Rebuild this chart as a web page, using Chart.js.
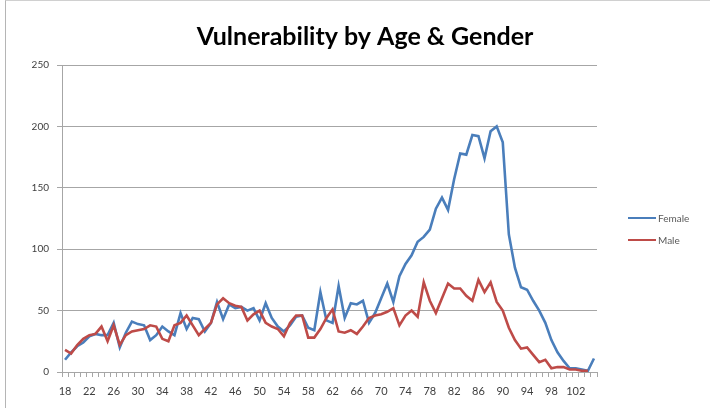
<!DOCTYPE html>
<html lang="en">
<head>
    <meta charset="UTF-8">
    <title>Vulnerability by Age & Gender</title>
    <script src="https://cdn.jsdelivr.net/npm/chart.js"></script>
    <style>
        body { margin: 0; background: #fff; }
        .quadro { position: absolute; left: 0; top: 0; width: 710px; height: 408px; overflow: hidden; }
        .moldura { position: absolute; left: 5px; top: 0; width: 720px; height: 420px; border-left: 1px solid #b5b5b5; border-top: 1px solid #d0d0d0; }
        canvas { position: absolute; left: 0; top: 0; }
        .legenda { position: absolute; left: 628px; top: 207px; font-family: Lato, sans-serif; font-size: 10px; color: #595959; }
        .item { height: 22px; display: flex; align-items: center; margin: 0; }
        .linha { width: 28px; height: 2px; margin-right: 2px; }
    </style>
</head>
<body>
    <div class="quadro">
        <div class="moldura"></div>
        <canvas id="grafico" width="710" height="408"></canvas>
        <div class="legenda" id="legenda"></div>
    </div>
<script>
    const idades = ['18','19','20','21','22','23','24','25','26','27','28','29','30','31','32','33','34','35','36','37',
        '38','39','40','41','42','43','44','45','46','47','48','49','50','51','52','53','54','55','56','57',
        '58','59','60','61','62','63','64','65','66','67','68','69','70','71','72','73','74','75','76','77',
        '78','79','80','81','82','83','84','85','86','87','88','89','90','91','92','93','94','95','96','97',
        '98','99','100','101','102','103','104','105'];

    const feminino = [10, 16, 21, 24, 29, 31, 30, 30, 40, 20, 32, 41, 39, 38, 26, 30, 37, 33, 30, 48,
        35, 44, 43, 33, 40, 57, 43, 55, 52, 53, 50, 52, 42, 56, 44, 37, 33, 38, 45, 46,
        36, 34, 65, 42, 40, 70, 44, 56, 55, 58, 40, 48, 60, 72, 57, 78, 88, 95, 106, 110,
        116, 133, 142, 132, 157, 178, 177, 193, 192, 174, 196, 200, 187, 112, 85, 69, 67, 58, 50, 40,
        26, 16, 9, 3, 3, 2, 1, 11];

    const masculino = [18, 15, 22, 27, 30, 31, 37, 25, 38, 22, 30, 33, 34, 35, 38, 37, 27, 25, 38, 40,
        46, 38, 30, 35, 40, 55, 60, 56, 54, 53, 42, 47, 50, 40, 37, 35, 29, 40, 46, 46,
        28, 28, 35, 44, 51, 33, 32, 34, 31, 37, 44, 46, 47, 49, 52, 38, 46, 50, 45, 73,
        58, 48, 60, 72, 68, 68, 62, 58, 75, 65, 73, 57, 50, 36, 26, 19, 20, 14, 8, 10,
        3, 4, 4, 2, 2, 1, 1, null];

    const ticksY = [0, 50, 100, 150, 200, 250];

    const corFeminino = '#4a7ebb';
    const corMasculino = '#be4b48';

    const ctx = document.getElementById('grafico').getContext('2d');

    new Chart(ctx, {
        type: 'line',
        data: {
            labels: idades,
            datasets: [{
                label: 'Female',
                data: feminino,
                borderColor: corFeminino,
                backgroundColor: corFeminino,
                borderWidth: 2.6,
                pointRadius: 0,
                tension: 0,
                order: 1
            }, {
                label: 'Male',
                data: masculino,
                borderColor: corMasculino,
                backgroundColor: corMasculino,
                borderWidth: 2.6,
                pointRadius: 0,
                tension: 0,
                order: 0
            }]
        },
        options: {
            responsive: false,
            animation: false,
            layout: {
                padding: { left: 20, right: 0, top: 0, bottom: 0 }
            },
            plugins: {
                legend: { display: false },
                tooltip: { enabled: false },
                title: {
                    display: true,
                    text: 'Vulnerability by Age & Gender',
                    color: '#000',
                    font: { family: 'Lato', size: 25, weight: 'bold' },
                    padding: { top: 22, bottom: 13 }
                }
            },
            scales: {
                x: {
                    type: 'category',
                    offset: true,
                    afterFit: function (escala) { escala.height = 36; },
                    grid: {
                        display: true,
                        drawOnChartArea: false,
                        drawTicks: true,
                        offset: true,
                        tickLength: 5,
                        color: '#a6a6a6'
                    },
                    border: { display: true, color: '#a6a6a6' },
                    ticks: {
                        autoSkip: false,
                        maxRotation: 0,
                        padding: 8,
                        color: '#404040',
                        font: { family: 'Lato', size: 11 },
                        callback: function (valor, indice) {
                            return indice % 4 === 0 ? idades[indice] : '';
                        }
                    }
                },
                y: {
                    min: 0,
                    max: 250,
                    afterFit: function (escala) { escala.width = 42; },
                    afterBuildTicks: function (escala) {
                        escala.ticks = ticksY.map(function (v) { return { value: v }; });
                    },
                    grid: {
                        color: '#a6a6a6',
                        tickLength: 5
                    },
                    border: { display: true, color: '#a6a6a6' },
                    ticks: {
                        padding: 8,
                        color: '#404040',
                        font: { family: 'Lato', size: 10 }
                    }
                },
                // espaco reservado para a legenda a direita
                reserva: {
                    type: 'linear',
                    position: 'right',
                    min: 0,
                    max: 1,
                    afterFit: function (escala) { escala.width = 113; },
                    grid: { display: false },
                    border: { display: false },
                    ticks: { display: false }
                }
            }
        }
    });

    const legenda = document.getElementById('legenda');
    [['Female', corFeminino], ['Male', corMasculino]].forEach(function (item) {
        legenda.innerHTML += `<div class="item"><span class="linha" style="background:${item[1]}"></span>${item[0]}</div>`;
    });
</script>
</body>
</html>
